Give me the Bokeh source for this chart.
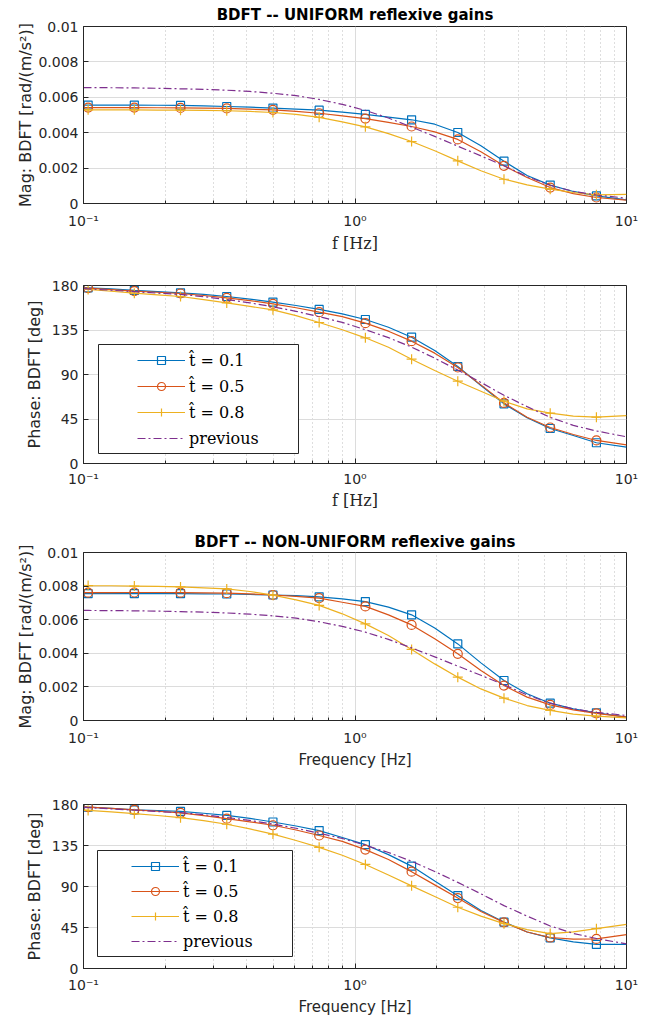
from bokeh.plotting import figure
from bokeh.layouts import column
from bokeh.models import (FixedTicker, CustomJSTickFormatter, Legend, LegendItem,
                          BoxAnnotation)
from bokeh.embed import file_html
from bokeh.resources import INLINE

# ---------------- data ----------------
FREQ = [0.1, 0.104, 0.1265, 0.1539, 0.1872, 0.2277, 0.277, 0.337, 0.41, 0.4986,
        0.6066, 0.7379, 0.8977, 1.092, 1.328, 1.616, 1.966, 2.391, 2.909, 3.538,
        4.304, 5.236, 6.37, 7.748, 10.0]
MARKER_IDX = [1, 3, 5, 7, 9, 11, 13, 15, 17, 19, 21, 23]

LABELS = ["t\u0302 = 0.1", "t\u0302 = 0.5", "t\u0302 = 0.8", "previous"]

MAG_U_T01 = [0.00556, 0.00556, 0.00556, 0.00556, 0.00555, 0.00554, 0.00551, 0.00548, 0.00544,
             0.00539, 0.00533, 0.00527, 0.00516, 0.00503, 0.00488, 0.00473, 0.00448, 0.00401,
             0.00326, 0.00239, 0.00158, 0.00104, 0.00068, 0.00043, 0.00021]
MAG_U_T05 = [0.00542, 0.00542, 0.00542, 0.00542, 0.00541, 0.0054, 0.00539, 0.00537, 0.00533,
             0.00529, 0.00521, 0.0051, 0.00495, 0.0048, 0.00458, 0.00435, 0.00405, 0.00362,
             0.00292, 0.00213, 0.00147, 0.0009, 0.00056, 0.00034, 0.00019]
MAG_U_T08 = [0.00529, 0.00529, 0.00529, 0.00529, 0.00528, 0.00527, 0.00526, 0.00524, 0.0052,
             0.00514, 0.00503, 0.00487, 0.00461, 0.00433, 0.00395, 0.0035, 0.00298, 0.00241,
             0.00185, 0.00137, 0.00105, 0.00081, 0.00062, 0.00049, 0.00051]
MAG_PREV = [0.00655, 0.00655, 0.00654, 0.00653, 0.00651, 0.00648, 0.00645, 0.0064, 0.00633,
            0.00623, 0.00609, 0.00588, 0.0056, 0.00526, 0.00483, 0.00432, 0.00379, 0.00324,
            0.00269, 0.00213, 0.00152, 0.00103, 0.00069, 0.00048, 0.0003]

MAG_N_T01 = [0.00755, 0.00755, 0.00755, 0.00755, 0.00755, 0.00755, 0.00754, 0.00753, 0.0075,
             0.00747, 0.00743, 0.00736, 0.00724, 0.00708, 0.00675, 0.00629, 0.0055, 0.00456,
             0.00343, 0.00238, 0.00159, 0.00103, 0.00069, 0.00046, 0.0002]
MAG_N_T05 = [0.00761, 0.00761, 0.00761, 0.00762, 0.00762, 0.00761, 0.0076, 0.00758, 0.00754,
             0.00747, 0.00739, 0.00728, 0.00704, 0.00679, 0.00629, 0.00569, 0.00486, 0.00397,
             0.00298, 0.00208, 0.00139, 0.00093, 0.00063, 0.00042, 0.0002]
MAG_N_T08 = [0.00804, 0.00803, 0.00802, 0.008, 0.00798, 0.00795, 0.0079, 0.00783, 0.00768,
             0.00746, 0.00718, 0.00685, 0.00635, 0.00575, 0.00506, 0.00423, 0.00337, 0.00258,
             0.00188, 0.00133, 0.00089, 0.0006, 0.00038, 0.00026, 0.00016]

PH_U_T01 = [177.8, 177.6, 176.5, 175.0, 173.9, 172.6, 171.0, 168.9, 166.3, 163.2, 159.8, 155.8,
            151.3, 145.6, 137.8, 127.7, 114.3, 98.1, 78.9, 60.3, 46.2, 35.4, 28.3, 21.0, 16.5]
PH_U_T05 = [177.5, 177.3, 175.9, 174.3, 173.2, 171.9, 169.9, 167.5, 164.7, 161.4, 157.5, 153.0,
            148.6, 141.9, 133.8, 123.7, 111.6, 97.1, 79.5, 61.3, 46.8, 36.4, 29.3, 23.3, 18.9]
PH_U_T08 = [176.3, 176.0, 174.2, 172.2, 170.6, 168.9, 165.8, 162.4, 158.9, 155.4, 149.5, 142.6,
            135.2, 127.1, 117.6, 105.5, 94.0, 83.2, 73.1, 63.0, 55.3, 50.9, 47.9, 46.8, 48.5]
PH_PREV = [176.8, 176.6, 175.2, 173.8, 172.3, 171.0, 168.8, 165.8, 162.5, 158.5, 153.9, 148.5,
           142.7, 135.3, 127.3, 117.7, 106.5, 94.5, 82.0, 69.0, 57.5, 46.7, 38.5, 32.9, 27.0]

PH_N_T01 = [177.3, 177.1, 175.8, 174.2, 173.4, 172.4, 170.4, 168.0, 164.8, 160.8, 156.4, 151.4,
            143.8, 135.9, 125.0, 112.4, 96.1, 79.9, 63.6, 51.0, 40.1, 33.6, 29.3, 26.4, 26.4]
PH_N_T05 = [177.3, 177.1, 175.7, 174.2, 172.6, 170.9, 167.8, 164.4, 161.0, 157.2, 152.0, 146.0,
            139.5, 130.5, 119.6, 106.3, 91.8, 77.3, 62.5, 50.6, 40.1, 34.0, 32.2, 32.5, 37.2]
PH_N_T08 = [173.8, 173.5, 171.8, 169.9, 167.9, 165.5, 162.2, 158.3, 153.2, 147.5, 140.5, 133.0,
            124.3, 114.2, 102.6, 90.7, 79.1, 67.2, 57.5, 49.2, 42.6, 38.3, 40.1, 43.7, 48.4]

X_TICKS = [0.1, 1, 10]
X_MINOR = [0.2, 0.3, 0.4, 0.5, 0.6, 0.7, 0.8, 0.9, 2, 3, 4, 5, 6, 7, 8, 9]
MAG_TICKS = [0, 0.002, 0.004, 0.006, 0.008, 0.01]
PH_TICKS = [0, 45, 90, 135, 180]

# ---------------- styling ----------------
COLORS = ["#0072BD", "#D95319", "#EDB120", "#7E2F8E"]
MARKERS = ["square", "circle", "cross"]
MSIZES = [8, 9, 10]
AX = "#262626"
SANS = "DejaVu Sans"
SERIF = "DejaVu Serif"

xfmt = CustomJSTickFormatter(code="""
const e = Math.round(Math.log10(tick));
const m = {'-1': '\u207b\u00b9', '0': '\u2070', '1': '\u00b9'};
return '10' + m[String(e)];
""")
magfmt = CustomJSTickFormatter(code="""
if (Math.abs(tick) < 1e-12) { return '0'; }
return (Math.round(tick * 1000) / 1000).toString();
""")


def panel(height, top, bottom, y_end, yticks, yfmt, ylabel, ylab_standoff, xlabel,
          xlabel_font, xlabel_size, tick_standoff, xlab_standoff, series, title=None,
          title_standoff=0, legend=None):
    kw = {}
    if title:
        kw["title"] = title
    p = figure(width=650, height=height, x_axis_type="log", x_range=(0.1, 10),
               y_range=(0, y_end), output_backend="svg", toolbar_location=None,
               min_border_left=83, min_border_right=24, min_border_top=top,
               min_border_bottom=bottom, **kw)
    p.background_fill_color = "white"
    p.border_fill_color = "white"
    p.outline_line_color = AX
    p.outline_line_width = 1
    if title and p.title is not None:
        p.title.text_font = SANS
        p.title.text_font_size = "15px"
        p.title.text_font_style = "bold"
        p.title.text_color = "#000000"
        p.title.align = "center"
        p.title.standoff = title_standoff

    xt = FixedTicker(ticks=X_TICKS, minor_ticks=X_MINOR)
    p.xaxis.ticker = xt
    p.xgrid.ticker = xt
    p.xaxis.formatter = xfmt
    yt = FixedTicker(ticks=yticks)
    p.yaxis.ticker = yt
    p.ygrid.ticker = yt
    if yfmt is not None:
        p.yaxis.formatter = yfmt

    for ax in (p.xaxis, p.yaxis):
        ax.axis_line_color = AX
        ax.major_tick_line_color = AX
        ax.minor_tick_line_color = AX
        ax.major_tick_in = 5
        ax.major_tick_out = 0
        ax.minor_tick_in = 3
        ax.minor_tick_out = 0
        ax.major_label_text_font = SANS
        ax.major_label_text_font_size = "14px"
        ax.major_label_text_color = AX
        ax.axis_label_text_color = AX
        ax.axis_label_text_font_style = "normal"
    p.yaxis.minor_tick_line_color = None
    p.yaxis.major_label_standoff = 5
    p.yaxis.axis_label = ylabel
    p.yaxis.axis_label_text_font = SANS
    p.yaxis.axis_label_text_font_size = "16px"
    p.yaxis.axis_label_standoff = ylab_standoff
    p.xaxis.major_label_standoff = tick_standoff
    p.xaxis.axis_label = xlabel
    p.xaxis.axis_label_text_font = xlabel_font
    p.xaxis.axis_label_text_font_size = xlabel_size
    p.xaxis.axis_label_standoff = xlab_standoff

    p.xgrid.grid_line_color = "#dcdcdc"
    p.xgrid.minor_grid_line_color = "#bdbdbd"
    p.xgrid.minor_grid_line_dash = "1 3"
    p.ygrid.grid_line_color = "#dcdcdc"

    fx = [FREQ[i] for i in MARKER_IDX]
    items = []
    for k, vals in enumerate(series):
        if k < 3:
            ln = p.line(FREQ, vals, line_color=COLORS[k], line_width=1.2)
            sc = p.scatter(fx, [vals[i] for i in MARKER_IDX], marker=MARKERS[k],
                           size=MSIZES[k], line_color=COLORS[k], fill_color=None,
                           line_width=1.2)
            items.append(LegendItem(label=LABELS[k], renderers=[ln, sc]))
        else:
            ln = p.line(FREQ, vals, line_color=COLORS[k], line_width=1.2,
                        line_dash="8 3 2 3")
            items.append(LegendItem(label=LABELS[k], renderers=[ln]))

    if legend is not None:
        (bl, br, bb, bt), (lx, ly), sp = legend
        box = BoxAnnotation(left=bl, right=br, bottom=bb, top=bt,
                            left_units="screen", right_units="screen",
                            bottom_units="screen", top_units="screen",
                            fill_color="white", fill_alpha=1.0,
                            line_color=AX, line_width=1, line_alpha=1.0)
        p.add_layout(box)
        lg = Legend(items=items, location=(lx, ly), padding=5, spacing=sp, margin=0,
                    glyph_width=48, glyph_height=20, label_height=22, label_standoff=4,
                    label_text_font=SERIF, label_text_font_size="16px",
                    label_text_color="#000000", border_line_alpha=0,
                    background_fill_alpha=0)
        p.add_layout(lg)
    return p


p1 = panel(265, 26, 62, 0.01, MAG_TICKS, magfmt, "Mag: BDFT [rad/(m/s\u00b2)]", 0,
           "f [Hz]", SERIF, "16px", 9, 2,
           [MAG_U_T01, MAG_U_T05, MAG_U_T08, MAG_PREV],
           title="BDFT -- UNIFORM reflexive gains", title_standoff=6)
p2 = panel(255, 20, 57, 180, PH_TICKS, None, "Phase: BDFT [deg]", 5,
           "f [Hz]", SERIF, "16px", 7, 1,
           [PH_U_T01, PH_U_T05, PH_U_T08, PH_PREV],
           legend=((15, 215, 10, 119), (49, 9), 4))
p3 = panel(255, 32, 55, 0.01, MAG_TICKS, magfmt, "Mag: BDFT [rad/(m/s\u00b2)]", 0,
           "Frequency [Hz]", SANS, "15px", 9, 2,
           [MAG_N_T01, MAG_N_T05, MAG_N_T08, MAG_PREV],
           title="BDFT -- NON-UNIFORM reflexive gains", title_standoff=3)
p4 = panel(243, 29, 48, 180, PH_TICKS, None, "Phase: BDFT [deg]", 5,
           "Frequency [Hz]", SANS, "15px", 8, 2,
           [PH_N_T01, PH_N_T05, PH_N_T08, PH_PREV],
           legend=((14, 209, 12, 118), (43, 11), 3))

layout = column(p1, p2, p3, p4, spacing=0)
open("out.html", "w").write(file_html(layout, INLINE))
